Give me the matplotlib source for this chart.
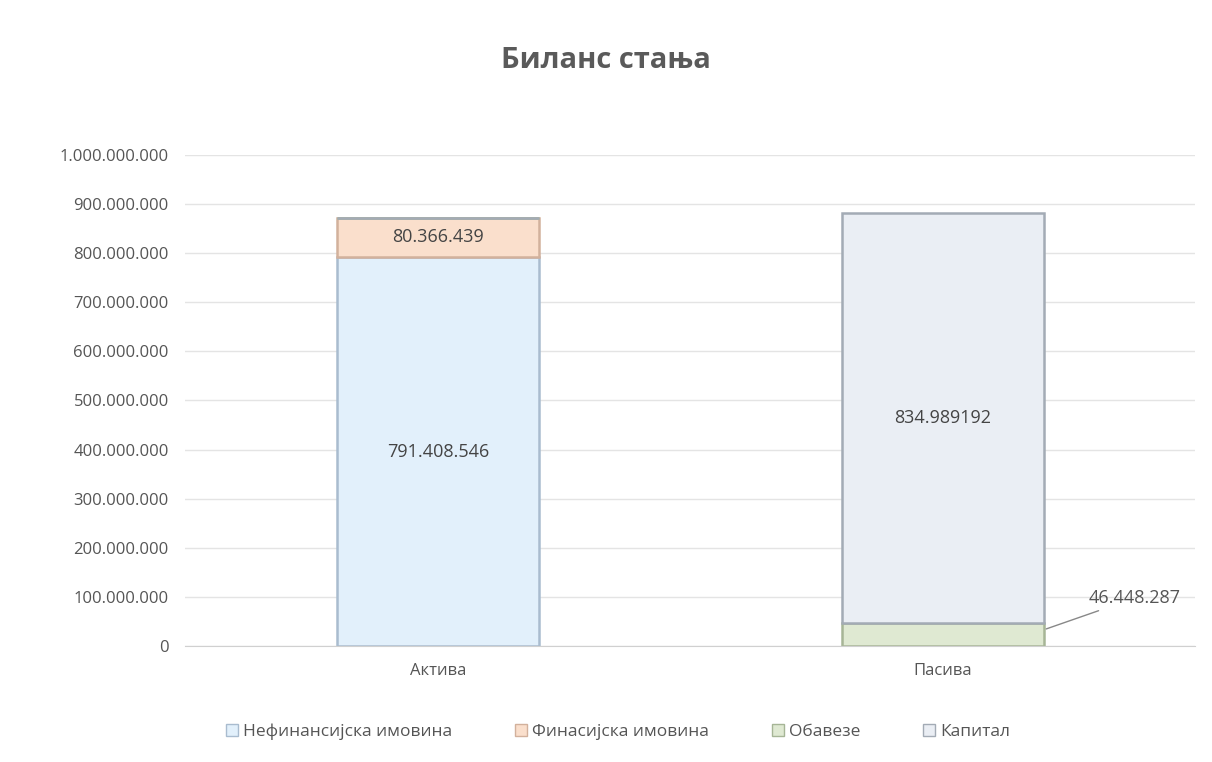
import matplotlib
matplotlib.use("Agg")
import matplotlib.pyplot as plt
from matplotlib.patches import Patch

# data
categories = ["Актива", "Пасива"]
series = ["Нефинансијска имовина", "Финасијска имовина", "Обавезе", "Капитал"]
nefin = [791408546, 0]
fin = [80366439, 0]
obaveze = [0, 46448287]
kapital = [0, 834989192]
label_text = ["791.408.546", "80.366.439", "46.448.287", "834.989192"]
y_ticks = list(range(0, 1000000001, 100000000))

fills = ["#e2f0fb", "#fadfcc", "#dfe9d2", "#eaeef4"]
edges = ["#a9bccf", "#d2b19c", "#a6b596", "#a3abb5"]

plt.rcParams['font.family'] = ['Open Sans', 'DejaVu Sans']

fig = plt.figure(figsize=(12.12, 7.62), dpi=100)
ax = fig.add_axes([0.153, 0.152, 0.833, 0.645])

x = [0, 1]
w = 0.4
bottoms = [0, 0]
for vals, fc, ec in zip([nefin, fin, obaveze, kapital], fills, edges):
    ax.bar(x, vals, w, bottom=bottoms, color=fc, edgecolor=ec, linewidth=1.8)
    bottoms = [bottoms[i] + vals[i] for i in range(2)]

# labels inside segments
ax.text(0, nefin[0] / 2, label_text[0], ha='center', va='center', fontsize=13, color='#444444')
ax.text(0, nefin[0] + fin[0] / 2, label_text[1], ha='center', va='center', fontsize=13, color='#444444')
ax.text(1, obaveze[1] + kapital[1] / 2, label_text[3], ha='center', va='center',
        fontsize=13, color='#444444')
# outside label with leader line
ax.annotate(label_text[2], xy=(1 + w / 2, obaveze[1] / 2 + 10000000),
            xytext=(1.29, 98000000), ha='left', va='center', fontsize=13, color='#555555',
            arrowprops=dict(arrowstyle='-', color='#888888', lw=1))

ax.set_xlim(-0.5, 1.5)
ax.set_ylim(0, 1000000000)
ax.set_yticks(y_ticks)
ax.set_yticklabels([f"{v:,}".replace(",", ".") for v in y_ticks], fontsize=12, color='#555555')
ax.set_xticks(x)
ax.set_xticklabels(categories, fontsize=12, color='#555555')
ax.tick_params(length=0, pad=12)
ax.grid(axis='y', color='#e4e4e4', linewidth=1)
ax.set_axisbelow(True)
for s in ['top', 'right', 'left']:
    ax.spines[s].set_visible(False)
ax.spines['bottom'].set_color('#d0d0d0')

fig.text(0.5, 0.92, "Биланс стања", ha='center', va='center', fontsize=21,
         fontweight='bold', color='#5a5a5a')

handles = [Patch(facecolor=fc, edgecolor=ec) for fc, ec in zip(fills, edges)]
fig.legend(handles, series, loc='center', bbox_to_anchor=(0.51, 0.04), ncol=4, frameon=False,
           fontsize=12.5, labelcolor='#555555', handlelength=0.7, handleheight=0.7,
           handletextpad=0.3, columnspacing=3.6)

fig.savefig("out.png", dpi=100)
